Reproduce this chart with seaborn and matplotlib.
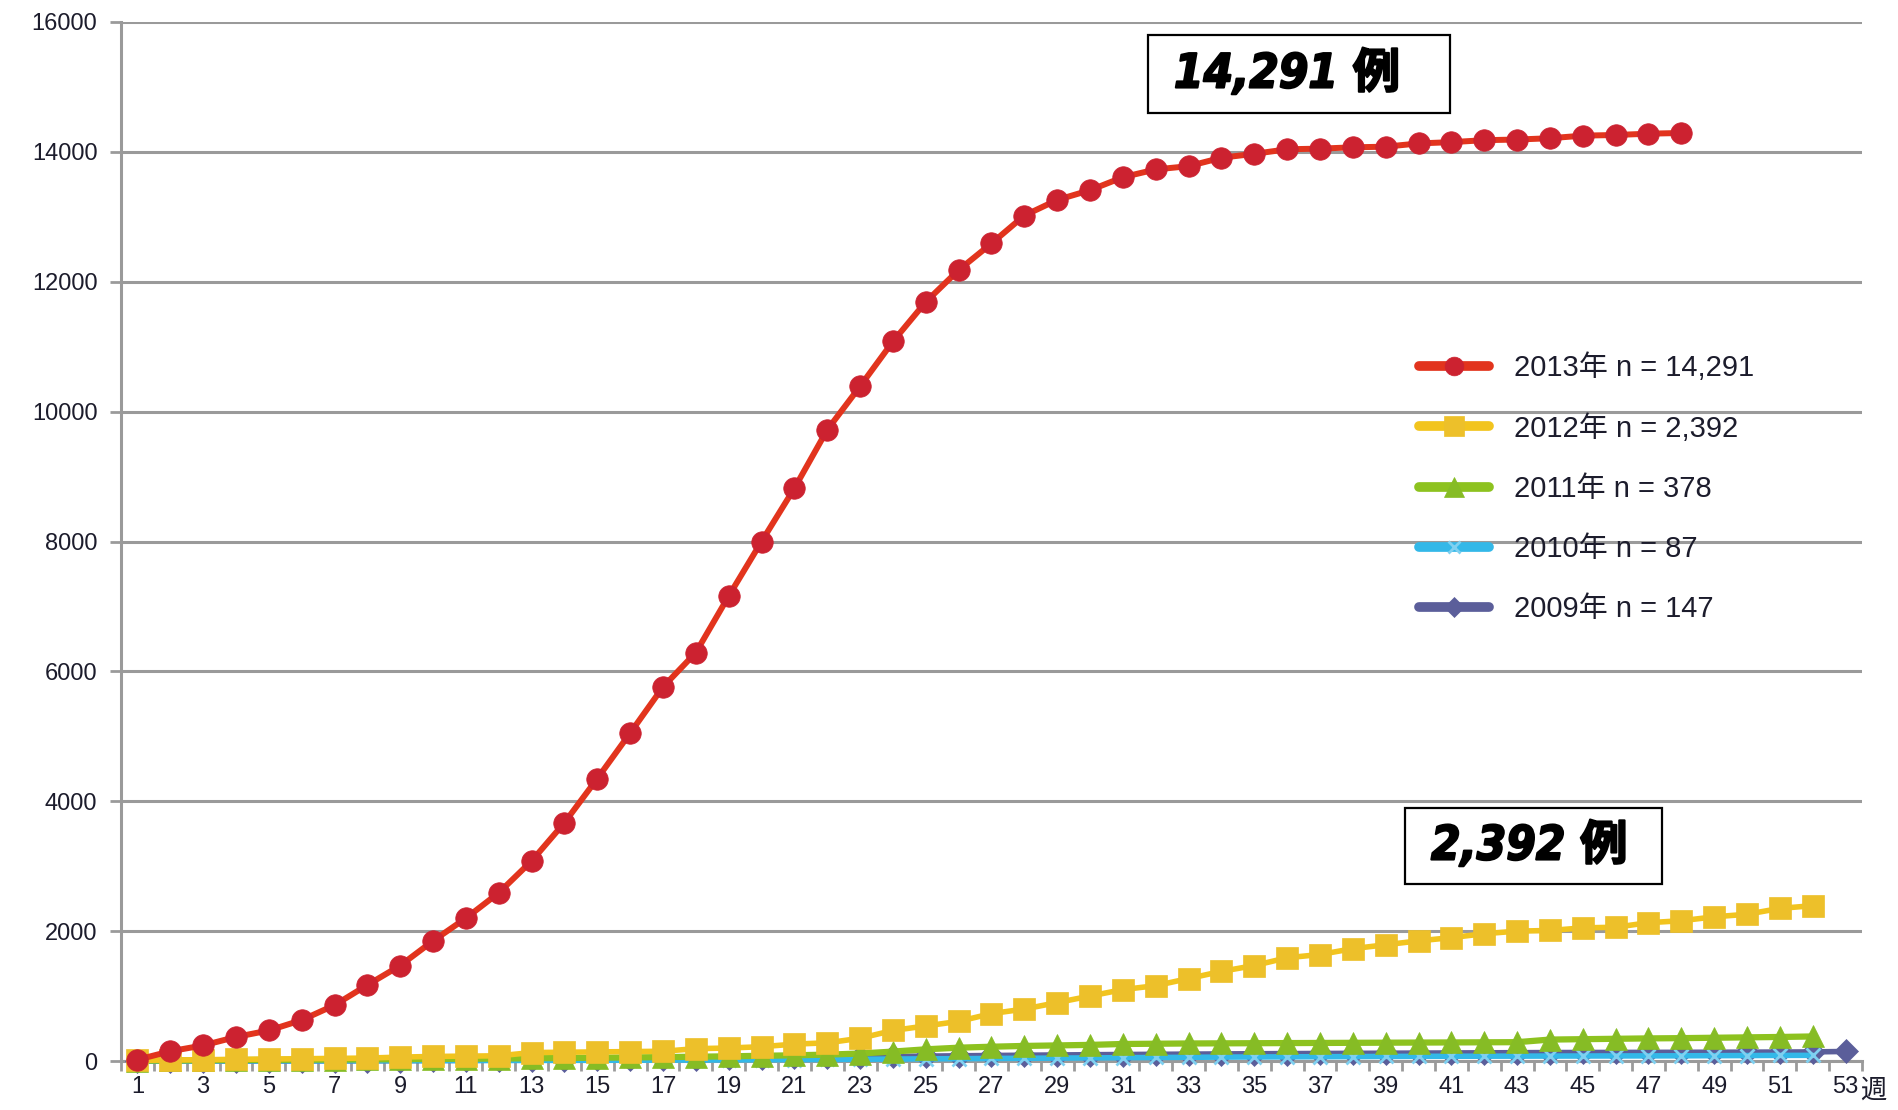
import numpy as np
import pandas as pd
import seaborn as sns
import matplotlib.pyplot as plt
import matplotlib.patheffects as pe
from matplotlib.lines import Line2D
from matplotlib.patches import Rectangle

#  cumulative weekly counts
y2013 = [20, 150, 240, 370, 470, 630, 860, 1170, 1470, 1850,
         2200, 2590, 3080, 3670, 4350, 5050, 5760, 6290, 7160, 8000,
         8820, 9720, 10390, 11080, 11690, 12180, 12590, 13020, 13260, 13410,
         13610, 13730, 13780, 13910, 13970, 14040, 14050, 14070, 14080, 14130,
         14150, 14180, 14190, 14210, 14250, 14260, 14280, 14291]
y2012 = [10, 15, 20, 25, 30, 35, 40, 45, 60, 70,
         75, 80, 130, 135, 140, 145, 150, 190, 200, 220,
         260, 280, 350, 470, 540, 610, 730, 800, 900, 1000,
         1100, 1160, 1270, 1380, 1470, 1590, 1640, 1730, 1790, 1850,
         1900, 1960, 2000, 2010, 2050, 2060, 2130, 2160, 2220, 2260,
         2350, 2392]
y2011 = [5, 8, 12, 15, 18, 20, 22, 25, 28, 32,
         35, 38, 42, 46, 50, 55, 60, 66, 72, 80,
         88, 98, 115, 145, 180, 205, 220, 232, 240, 248,
         262, 266, 270, 272, 274, 276, 278, 280, 282, 284,
         286, 288, 290, 330, 336, 342, 348, 352, 358, 364,
         370, 378]
y2010 = [0, 0, 1, 1, 2, 2, 3, 4, 5, 6,
         7, 8, 9, 10, 11, 12, 14, 15, 17, 19,
         21, 24, 27, 30, 33, 36, 39, 42, 45, 48,
         51, 54, 57, 60, 62, 64, 66, 68, 70, 72,
         73, 74, 75, 76, 77, 78, 79, 80, 82, 84,
         86, 87]
y2009 = [0, 0, 0, 1, 1, 2, 3, 4, 6, 8,
         10, 13, 16, 20, 24, 28, 33, 38, 43, 48,
         54, 59, 64, 70, 75, 80, 85, 89, 93, 97,
         100, 103, 106, 109, 112, 114, 116, 118, 120, 122,
         124, 126, 128, 130, 131, 132, 133, 134, 135, 136,
         138, 140, 147]

labels = ['2013年 n = 14,291', '2012年 n = 2,392', '2011年 n = 378',
          '2010年 n = 87', '2009年 n = 147']
tick_weeks = list(range(1, 54, 2))

sns.set_style('white')
plt.rcParams['font.family'] = ['Liberation Sans', 'Noto Sans CJK JP', 'DejaVu Sans']

W, H = 1899, 1110
fig = plt.figure(figsize=(W / 100, H / 100), dpi=100)
ax = fig.add_axes([121 / W, 1 - 1061 / H, (1862 - 121) / W, (1061 - 22) / H])

# style for each series: (data, line colour, marker, marker colour, ms, lw)
styles = [
    (y2009, '#5B5E9A', 'D', '#5B5E9A', 12, 4.0),
    (y2010, '#33B8E8', 'x', '#7FD0F0', 10, 4.0),
    (y2011, '#8DC21F', '^', '#86BC25', 16, 4.5),
    (y2012, '#F2C41E', 's', '#EDC02A', 16, 4.0),
    (y2013, '#E2341D', 'o', '#CC2230', 15.5, 4.3),
]
for i, (vals, col, mk, mcol, ms, lw) in enumerate(styles):
    wk = np.arange(1, len(vals) + 1)
    sns.lineplot(x=wk, y=vals, ax=ax, color=col, marker=mk, markersize=ms,
                 markerfacecolor=mcol, markeredgecolor=mcol,
                 markeredgewidth=2 if mk == 'x' else 0.5,
                 linewidth=lw, clip_on=False, zorder=3 + i, legend=False)

ax.set_xlim(0.5, 53.5)
ax.set_ylim(0, 16000)
ax.set_yticks(range(0, 16001, 2000))
ax.set_xticks(tick_weeks)
ax.set_xticks(np.arange(0.5, 54, 1), minor=True)
ax.set_xlabel('')
ax.set_ylabel('')

ax.yaxis.grid(True, color='#9a9a9a', lw=2.2)
ax.set_axisbelow(True)
for s in ['top', 'right']:
    ax.spines[s].set_visible(False)
for s in ['left', 'bottom']:
    ax.spines[s].set_color('#9a9a9a')
    ax.spines[s].set_linewidth(2.2)

ax.tick_params(axis='y', length=8, width=2, color='#9a9a9a', pad=9,
               labelsize=17, labelcolor='#1c1c2c', left=True)
ax.tick_params(axis='x', which='major', length=0, pad=11,
               labelsize=17, labelcolor='#1c1c2c', bottom=True)
ax.tick_params(axis='x', which='minor', length=7, width=2,
               color='#9a9a9a', bottom=True)
fig.text(1860 / W, 1 - 1091 / H, '週', fontsize=19, va='center', ha='left',
         color='#1c1c2c')

# legend, 2013 first
handles = []
for vals, col, mk, mcol, ms, lw in styles[::-1]:
    handles.append(Line2D([], [], color=col, lw=7, marker=mk, markersize=ms - 2,
                          markerfacecolor=mcol, markeredgecolor=mcol,
                          markeredgewidth=2 if mk == 'x' else 0.5))
fig.legend(handles, labels, loc='upper left',
           bbox_to_anchor=(1393 / W, 1 - 327 / H), frameon=False,
           fontsize=21, handlelength=2.4, labelspacing=1.1,
           handletextpad=0.85, labelcolor='#1c1c2c')

# boxed totals
boxfont = ['DejaVu Sans', 'Noto Sans CJK JP']
for (x0, y0, x1, y1, txt) in [(1148, 35, 1450, 113, '14,291 例'),
                              (1405, 808, 1662, 884, '2,392 例')]:
    fig.add_artist(Rectangle((x0 / W, 1 - y1 / H), (x1 - x0) / W, (y1 - y0) / H,
                             transform=fig.transFigure, facecolor='white',
                             edgecolor='black', lw=1.6, zorder=10))
    fig.text((x0 + 26) / W, 1 - (y0 + y1) / 2 / H, txt, fontsize=34,
             weight='bold', style='italic', stretch='condensed',
             family=boxfont, color='black', va='center', ha='left', zorder=11,
             path_effects=[pe.withStroke(linewidth=1.5, foreground='black')])

fig.savefig('out.png', dpi=100)
